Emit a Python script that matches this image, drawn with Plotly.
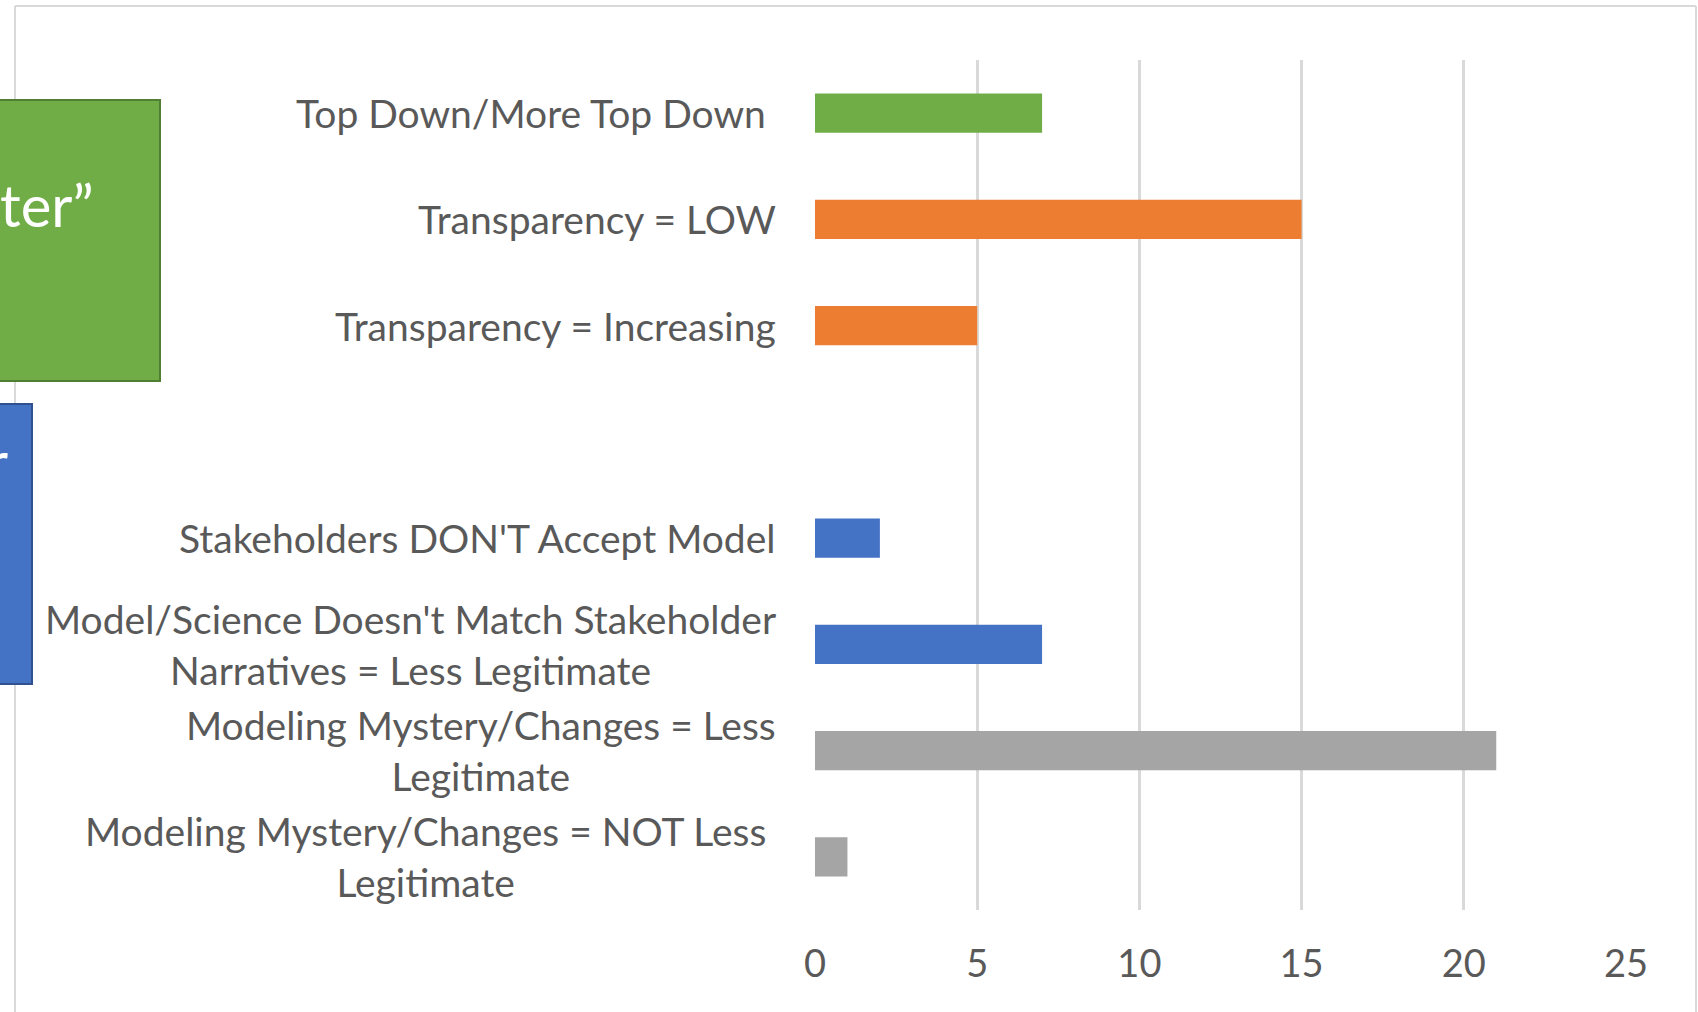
import plotly.graph_objects as go

# chart data (top to bottom)
categories = [
    "Top Down/More Top Down",
    "Transparency = LOW",
    "Transparency = Increasing",
    " ",
    "Stakeholders DON'T Accept Model",
    "Model/Science Doesn't Match Stakeholder<br>Narratives = Less Legitimate",
    "Modeling Mystery/Changes = Less<br>Legitimate",
    "Modeling Mystery/Changes = NOT Less<br>Legitimate",
]
values = [7, 15, 5, None, 2, 7, 21, 1]
bar_colors = ['#70ad47', '#ed7d31', '#ed7d31', '#ffffff',
              '#4472c4', '#4472c4', '#a5a5a5', '#a5a5a5']
x_ticks = [0, 5, 10, 15, 20, 25]

W, H = 1698, 1012
L, R, T, B = 815, 72, 60, 102
PW, PH = W - L - R, H - T - B
FONT = "Lato, Open Sans, sans-serif"
TXT = '#595959'


def px(x):
    return (x - L) / PW


def py(y):
    return (H - B - y) / PH


fig = go.Figure()
fig.add_trace(go.Bar(y=categories, x=values, orientation='h',
                     marker=dict(color=bar_colors, line_width=0),
                     showlegend=False, hoverinfo='x+y'))

# category labels, centred lines like the original
for i, cat in enumerate(categories):
    # first and last labels sit a little further left in the original
    shift = -10 if i in (0, len(categories) - 1) else 0
    fig.add_annotation(x=px(778), xref='paper', y=cat, yref='y',
                       text=cat, showarrow=False, xanchor='right',
                       yanchor='middle', align='center', xshift=shift,
                       font=dict(family=FONT, size=39, color=TXT))

shapes = [
    # chart border
    dict(type='line', x0=px(15), x1=px(1696), y0=py(6), y1=py(6)),
    dict(type='line', x0=px(15), x1=px(15), y0=py(6), y1=py(1020)),
    dict(type='line', x0=px(1696), x1=px(1696), y0=py(6), y1=py(1020)),
]
for s in shapes:
    s.update(xref='paper', yref='paper', line=dict(color='#d9d9d9', width=2))

# slide boxes overlapping from the left
shapes.append(dict(type='rect', xref='paper', yref='paper',
                   x0=px(-5), x1=px(160), y0=py(100), y1=py(381),
                   fillcolor='#70ad47', line=dict(color='#507e32', width=2)))
shapes.append(dict(type='rect', xref='paper', yref='paper',
                   x0=px(-5), x1=px(32), y0=py(404), y1=py(684),
                   fillcolor='#4472c4', line=dict(color='#2f528f', width=2)))
fig.update_layout(shapes=shapes)

fig.add_annotation(x=px(96), y=py(204), xref='paper', yref='paper',
                   text='ter\u201d', showarrow=False, xanchor='right',
                   yanchor='middle',
                   font=dict(family=FONT, size=58, color='white'))
fig.add_annotation(x=px(10), y=py(460), xref='paper', yref='paper',
                   text='r', showarrow=False, xanchor='right',
                   yanchor='middle',
                   font=dict(family=FONT, size=58, color='white'))

fig.update_xaxes(range=[0, 25], tickvals=x_ticks, showgrid=True,
                 gridcolor='#d9d9d9', gridwidth=3, zeroline=False,
                 showline=False, ticks='outside', ticklen=20,
                 tickcolor='rgba(0,0,0,0)',
                 tickfont=dict(family=FONT, size=38, color=TXT))
fig.update_yaxes(autorange='reversed', showticklabels=False,
                 showgrid=False, zeroline=False, showline=False)

fig.update_layout(width=W, height=H, bargap=0.63,
                  margin=dict(l=L, r=R, t=T, b=B),
                  plot_bgcolor='white', paper_bgcolor='white')

# page has a default body margin; drop it so the figure sits at 0,0
fig.write_html("out.html", config={'displayModeBar': False},
               post_script="document.body.style.margin = '0';")
